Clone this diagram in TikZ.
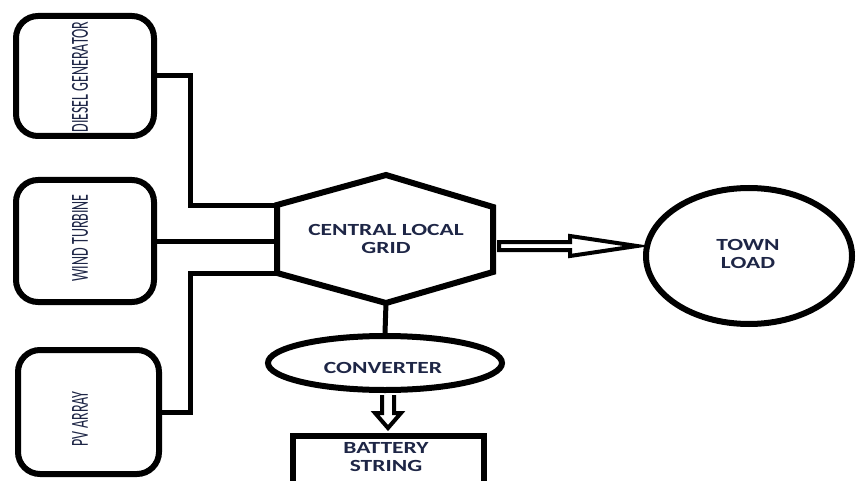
\documentclass[tikz,border=0pt]{standalone}
\usepackage{fontspec}
\setmainfont{Carlito}
\usetikzlibrary{shapes.geometric,calc}
\definecolor{txt}{RGB}{30,38,70}
\newcommand{\widetxt}[1]{\scalebox{1.38}[1]{#1}}
\newcommand{\vtxt}[1]{\rotatebox{90}{\scalebox{1}[1.75]{#1}}}
\tikzset{
  srcbox/.style={draw,line width=6pt,rounded corners=22pt,inner sep=0pt},
  conn/.style={draw,line width=5pt},
  shapeline/.style={draw,line width=6pt},
  hollow/.style={draw,line width=4pt,fill=white,line join=miter},
  hlabel/.style={inner sep=0pt,text=txt,font=\fontsize{17}{18}\selectfont\bfseries,align=center},
  vlabel/.style={inner sep=0pt,text=txt,font=\fontsize{14}{16}\selectfont},
}
\begin{document}
\begin{tikzpicture}[x=1pt,y=-1pt]
\clip (0,0) rectangle (856,481);
\fill[white] (0,0) rectangle (856,481);

% source boxes
\node[srcbox,minimum width=138pt,minimum height=120pt] (diesel) at (85,76) {};
\node[srcbox,minimum width=138pt,minimum height=122pt] (wind) at (85,241) {};
\node[srcbox,minimum width=141pt,minimum height=124pt] (pv) at (88.5,412) {};
\node[vlabel] (dieselT) at (80,77) {\vtxt{DIESEL GENERATOR}};
\node[vlabel] (windT) at (80,238) {\vtxt{WIND TURBINE}};
\node[vlabel] (pvT) at (80,419) {\vtxt{PV ARRAY}};

% hexagon (central local grid)
\coordinate (busTop) at (277,205);
\coordinate (busBot) at (277,273);
\coordinate (gridN) at (386,175);
\coordinate (gridNE) at (493,207);
\coordinate (gridSE) at (493,272);
\coordinate (gridS) at (386,303);
\coordinate (gridW) at (277,241);
\draw[shapeline] (busTop) -- (gridN) -- (gridNE) -- (gridSE) -- (gridS) -- (busBot) -- cycle;
\node[hlabel] (grid) at (386,241) {\widetxt{\begin{tabular}{@{}c@{}}CENTRAL LOCAL\\GRID\end{tabular}}};

% connectors from sources
\draw[conn] (diesel.east) -- (190,76) |- (busTop);
\draw[conn] (wind.east) -- (gridW);
\draw[conn] (pv.east) -- (190,412) |- (busBot);

% town load
\node[shapeline,ellipse,minimum width=206pt,minimum height=136pt,inner sep=0pt] (town) at (749,256) {};
\node[hlabel] (townT) at (748,256) {\widetxt{\begin{tabular}{@{}c@{}}TOWN\\LOAD\end{tabular}}};

% hollow arrow grid -> town
\coordinate (aS) at (499,246);
\coordinate (aT) at (637,246);
\draw[hollow] ($(aS)+(0,-4)$) -- ($(aT)+(-67,-4)$) -- ($(aT)+(-67,-10)$) -- (aT)
  -- ($(aT)+(-67,10)$) -- ($(aT)+(-67,4)$) -- ($(aS)+(0,4)$) -- cycle;

% converter
\node[shapeline,ellipse,minimum width=234pt,minimum height=54pt,inner sep=0pt] (conv) at (385,363) {};
\node[hlabel] (convT) at (383,367.5) {\widetxt{CONVERTER}};
\draw[conn] (gridS) -- (conv.north);

% battery
\node[shapeline,rectangle,minimum width=191pt,minimum height=70pt,inner sep=0pt,anchor=north] (bat) at (388.5,433) {};
\node[hlabel] (batT) at (386,459) {\widetxt{\begin{tabular}{@{}c@{}}BATTERY\\STRING\end{tabular}}};

% hollow arrow converter -> battery
\coordinate (dS) at (388,395);
\coordinate (dT) at (388,428);
\draw[hollow] ($(dS)+(-6,0)$) -- ($(dT)+(-6,-15)$) -- ($(dT)+(-13,-15)$) -- (dT)
  -- ($(dT)+(13,-15)$) -- ($(dT)+(6,-15)$) -- ($(dS)+(6,0)$);
\end{tikzpicture}
\end{document}
